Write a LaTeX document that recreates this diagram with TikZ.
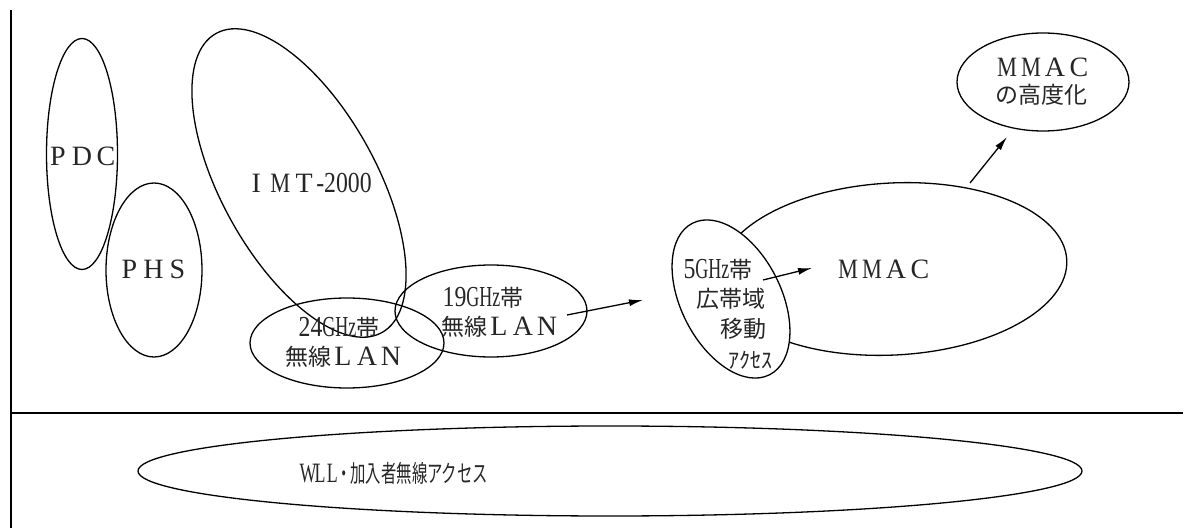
\documentclass[tikz,border=0pt]{standalone}
\usepackage{graphicx}
\usepackage{fontspec}
\setmainfont{Liberation Serif}
\newfontfamily\cjk{Noto Sans CJK JP}
\usetikzlibrary{shapes.geometric,arrows.meta}
\newcommand\lt{\fontsize{28bp}{28bp}\selectfont}
\newcommand\fwc[1]{\makebox[24bp]{#1}}
\newcommand\fwm{\makebox[24bp]{\scalebox{0.8}[1]{M}}}
\newcommand\hwd[1]{\scalebox{0.82}[1]{\fontsize{29bp}{29bp}\selectfont #1}}
\newcommand\hwg[1]{\scalebox{0.62}[1]{\fontsize{29bp}{29bp}\selectfont #1}}
\newcommand\jp[1]{{\cjk\fontsize{23bp}{23bp}\selectfont #1}}
\newcommand\jps[1]{{\cjk\fontsize{22bp}{22bp}\selectfont #1}}
\newcommand\wc[1]{\makebox[19bp]{#1}}
\tikzset{
  ell/.style={draw, ellipse, inner sep=0pt, line width=1.3bp},
  lbl/.style={inner sep=0pt, text=black!85, font=\lt},
  arr/.style={-{Latex[length=14bp,width=7bp]}, line width=1.3bp},
  rule/.style={line width=1.3bp}
}
\begin{document}
\begin{tikzpicture}[x=1bp,y=-1bp]
\path[use as bounding box] (0,0) rectangle (1185,528);
% frame lines
\coordinate (vt) at (11,10);
\coordinate (vb) at (11,528);
\coordinate (hl) at (11,413);
\coordinate (hr) at (1183,413);
\draw[rule] (vt) -- (vb);
\draw[rule] (hl) -- (hr);
% ellipses
\node[ell, minimum width=342bp, minimum height=155bp, rotate=-61] (imt) at (299,183) {};
\node[ell, minimum width=71bp, minimum height=231bp] (pdc) at (82,154) {};
\node[ell, minimum width=96bp, minimum height=174bp] (phs) at (154,270) {};
\node[ell, minimum width=194bp, minimum height=90bp] (g24) at (347,343) {};
\node[ell, minimum width=192bp, minimum height=92bp] (g19) at (491,311) {};
\node[ell, minimum width=348bp, minimum height=172bp, rotate=3] (mmac) at (893,269) {};
\node[ell, fill=white, minimum width=170bp, minimum height=100bp, rotate=-63] (g5) at (731,299) {};
\node[ell, minimum width=172bp, minimum height=98bp] (adv) at (1043,82) {};
\node[ell, minimum width=944bp, minimum height=90bp] (wll) at (610,471) {};
% labels
\node[lbl] (tpdc) at (82,156) {\fwc{P}\fwc{D}\fwc{C}};
\node[lbl] (tphs) at (153.5,269) {\fwc{P}\fwc{H}\fwc{S}};
\node[lbl] (timt) at (308,183) {\fwc{I}\fwm\fwc{T}\hwd{-2000}};
\node[lbl] (t24a) at (339,328) {\hwd{24}\hwg{GHz}\jp{帯}};
\node[lbl] (t24b) at (344,357) {\jp{無線}\fwc{L}\fwc{A}\fwc{N}};
\node[lbl] (t19a) at (483,298) {\hwd{19}\hwg{GHz}\jp{帯}};
\node[lbl] (t19b) at (500,327) {\jp{無線}\fwc{L}\fwc{A}\fwc{N}};
\node[lbl] (t5a) at (718,270) {\hwd{5}\hwg{GHz}\jp{帯}};
\node[lbl] (t5b) at (731,299) {\jp{広帯域}};
\node[lbl] (t5c) at (743.5,329) {\jp{移動}};
\node[lbl] (t5d) at (750,360) {\jps{ｱｸｾｽ}};
\node[lbl] (tmmac) at (884,269) {\fwm\fwm\fwc{A}\fwc{C}};
\node[lbl] (tadva) at (1043,67) {\fwm\fwm\fwc{A}\fwc{C}};
\node[lbl] (tadvb) at (1041,95) {\jp{の高度化}};
\node[lbl] (twll) at (395,473) {\scalebox{0.64}[1]{\fontsize{28bp}{28bp}\selectfont\wc{W}\wc{L}\wc{L}{\cjk\fontsize{24bp}{24bp}\selectfont\wc{・}加入者無線アクセス}}};
% arrows
\coordinate (a1s) at (567,315);
\coordinate (a1e) at (643,300);
\coordinate (a2s) at (763,280);
\coordinate (a2e) at (812,268);
\coordinate (a3s) at (970,183);
\coordinate (a3e) at (1007,137);
\draw[arr] (a1s) -- (a1e);
\draw[arr] (a2s) -- (a2e);
\draw[arr] (a3s) -- (a3e);
\end{tikzpicture}
\end{document}
